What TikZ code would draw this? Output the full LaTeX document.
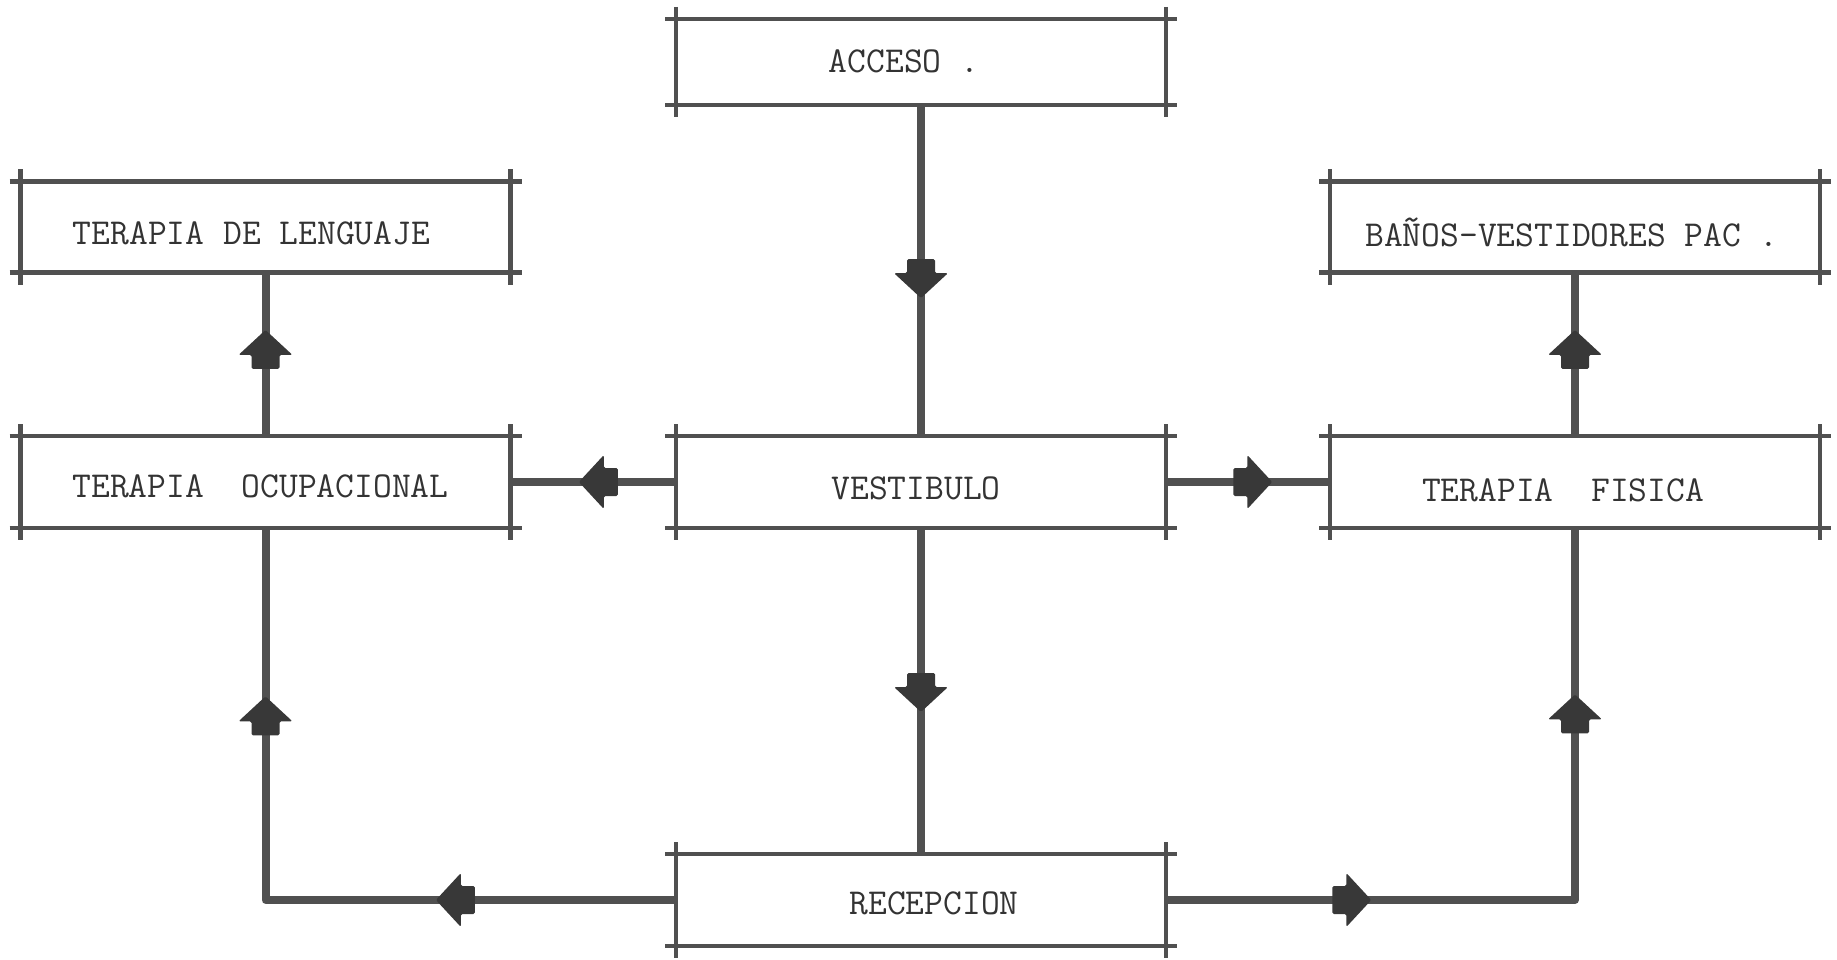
\documentclass[tikz,border=0pt]{standalone}
\usepackage{fontspec}
\usetikzlibrary{decorations.markings}

\definecolor{ink}{HTML}{505050}
\definecolor{headink}{HTML}{383838}

\tikzset{
  x=1pt, y=-1pt,
  room/.style={shape=rectangle, inner sep=0pt, outer sep=0pt,
    minimum width=490pt, minimum height=91pt},
  caption/.style={inner sep=0pt, outer sep=0pt, text height=21pt, text depth=0pt,
    font=\fontsize{36.5}{40}\ttfamily, text=black!80},
  frame/.style={draw=ink, line width=4.5pt},
  link/.style={draw=ink, line width=8pt, line join=round},
  flowmark/.style={postaction={decorate, decoration={markings,
    mark=at position #1 with {
      \fill[headink, rounded corners=1.5pt]
        (21pt,0pt) -- (-4pt,27pt) -- (-4pt,14pt) -- (-18pt,14pt)
        -- (-18pt,-14pt) -- (-4pt,-14pt) -- (-4pt,-27pt) -- cycle;}}}}
}

\begin{document}
\begin{tikzpicture}
\useasboundingbox (0,0) rectangle (1837,960);

% rooms
\node[room, minimum height=86pt] (acc) at (921,62)    {};
\node[room] (tl)  at (265.5,227) {};
\node[room] (bv)  at (1575,227)  {};
\node[room, minimum height=92pt] (to)  at (265.5,482) {};
\node[room, minimum height=92pt] (ve)  at (921,482)   {};
\node[room, minimum height=92pt] (tf)  at (1575,482)  {};
\node[room, minimum height=92pt] (re)  at (921,900)   {};

% room names
\node[caption] (acc-t) at ([xshift=-17pt]acc.center)            {ACCESO .};
\node[caption] (tl-t)  at ([xshift=-14pt,yshift=-7pt]tl.center)  {TERAPIA DE LENGUAJE};
\node[caption] (bv-t)  at ([xshift=-3pt,yshift=-9pt]bv.center)   {BAÑOS-VESTIDORES PAC .};
\node[caption] (to-t)  at ([xshift=-5pt,yshift=-5pt]to.center)   {TERAPIA\ \ OCUPACIONAL};
\node[caption] (ve-t)  at ([xshift=-5pt,yshift=-7pt]ve.center)   {VESTIBULO};
\node[caption] (tf-t)  at ([xshift=-12pt,yshift=-9pt]tf.center)  {TERAPIA\ \ FISICA};
\node[caption] (re-t)  at ([xshift=13pt,yshift=-4pt]re.center)   {RECEPCION};

% circulation
\draw[link, flowmark=0.52] (acc.south) -- (ve.north);
\draw[link, flowmark=0.52] (to.north) -- (tl.south);
\draw[link, flowmark=0.52] (tf.north) -- (bv.south);
\draw[link, flowmark=0.46] (ve.west) -- (to.east);
\draw[link, flowmark=0.52] (ve.east) -- (tf.west);
\draw[link, flowmark=0.50] (ve.south) -- (re.north);
\draw[link, flowmark=0.28, flowmark=0.758] (re.west) -| (to.south);
\draw[link, flowmark=0.236, flowmark=0.76] (re.east) -| (tf.south);

% room outlines with crossing corners
\foreach \n in {acc,tl,bv,to,ve,tf,re} {
  \draw[frame] ([xshift=-11pt]\n.north west) -- ([xshift=11pt]\n.north east);
  \draw[frame] ([xshift=-11pt]\n.south west) -- ([xshift=11pt]\n.south east);
  \draw[frame] ([yshift=12pt]\n.north west) -- ([yshift=-12pt]\n.south west);
  \draw[frame] ([yshift=12pt]\n.north east) -- ([yshift=-12pt]\n.south east);
}
\end{tikzpicture}
\end{document}
